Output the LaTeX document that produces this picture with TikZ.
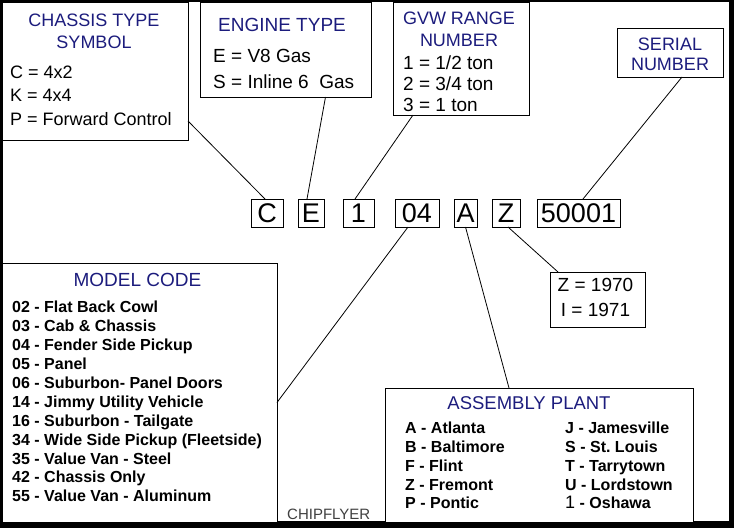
\documentclass[tikz,border=0pt]{standalone}
\usepackage{fontspec}
\setmainfont{Liberation Sans}
\usetikzlibrary{positioning}
\definecolor{headblue}{RGB}{28,28,125}
\tikzstyle{legend} = [
    rectangle, draw, line width=0.9pt, fill=white,
    anchor=north west, inner sep=0pt, outer sep=0pt
]
\tikzstyle{codebox} = [
    rectangle, draw, line width=0.9pt,
    minimum height=28pt, inner sep=0pt, outer sep=0pt, % same height for every letter
    font=\fontsize{27}{30}\selectfont
]
\tikzstyle{heading} = [
    inner sep=0pt, align=center, text=headblue
]
\tikzstyle{entries} = [
    inner sep=0pt, align=left
]
\tikzstyle{leader} = [line width=0.8pt]

\begin{document}
\begin{tikzpicture}[x=1pt, y=-1pt]
        \useasboundingbox (0,0) rectangle (734,528);
        % Frame
        \fill[black] (0,0) rectangle (734,528);
        \fill[white] (3,2) rectangle (729,521);

        % Legend boxes
        \node[legend, minimum width=186pt, minimum height=138pt] (chassis) at (2,2) {};
        \node[legend, minimum width=171pt, minimum height=95pt] (engine) at (200,2) {};
        \node[legend, minimum width=136pt, minimum height=113pt] (gvw) at (393,2) {};
        \node[legend, minimum width=106pt, minimum height=49pt] (serial) at (617,28) {};
        \node[legend, minimum width=95pt, minimum height=55pt] (year) at (550,272) {};
        \node[legend, minimum width=275pt, minimum height=259pt] (model) at (2,263) {};
        \node[legend, minimum width=308pt, minimum height=134pt] (plant) at (385,388) {};

        % The code itself
        \node[codebox, minimum width=32pt] (c) at (267,213) {C};
        \node[codebox, minimum width=26pt] (e) [right=15pt of c] {E};
        \node[codebox, minimum width=31pt] (one) [right=19pt of e] {1};
        \node[codebox, minimum width=44pt] (mdl) [right=21pt of one] {04};
        \node[codebox, minimum width=23pt] (a) [right=15pt of mdl] {A};
        \node[codebox, minimum width=28pt] (z) [right=15pt of a] {Z};
        \node[codebox, minimum width=83pt] (serialno) [right=17pt of z] {50001};

        % Headings
        \node[heading, font=\fontsize{18}{22}\selectfont] (chassishead) [below=11.5pt of chassis.north, xshift=-1pt] {CHASSIS TYPE\\SYMBOL};
        \node[heading, font=\fontsize{19}{22}\selectfont] (enginehead) [below=16pt of engine.north, xshift=-3.5pt] {ENGINE TYPE};
        \node[heading, font=\fontsize{18}{22}\selectfont] (gvwhead) [below=9.5pt of gvw.north, xshift=-2pt] {GVW RANGE\\NUMBER};
        \node[heading, font=\fontsize{18}{20}\selectfont] (serialhead) [below=9.5pt of serial.north] {SERIAL\\NUMBER};
        \node[heading, font=\fontsize{19}{22}\selectfont] (modelhead) [below=10pt of model.north, xshift=-2pt] {MODEL CODE};
        \node[heading, font=\fontsize{18.5}{22}\selectfont] (planthead) [below=8.4pt of plant.north, xshift=-10pt] {ASSEMBLY PLANT};

        % Entries
        \node[entries, font=\fontsize{18}{23.5}\selectfont] (chassislist) [below right=63.5pt and 8pt of chassis.north west] {
            C = 4x2\\
            K = 4x4\\
            P = Forward Control
        };
        \node[entries, font=\fontsize{19}{26}\selectfont] (enginelist) [below right=47pt and 13pt of engine.north west] {
            E = V8 Gas\\
            S = Inline 6\ \ Gas
        };
        \node[entries, font=\fontsize{19}{21}\selectfont] (gvwlist) [below right=54pt and 10pt of gvw.north west] {
            1 = 1/2 ton\\
            2 = 3/4 ton\\
            3 = 1 ton
        };
        \node[heading, text=black, font=\fontsize{19}{25}\selectfont] (yearlist) [below=6pt of year.north, xshift=-2pt] {
            Z = 1970\\
            I = 1971
        };
        \node[entries, font=\fontsize{16}{18.9}\selectfont\bfseries] (modellist) [below right=38pt and 10pt of model.north west] {
            02 - Flat Back Cowl\\
            03 - Cab \& Chassis\\
            04 - Fender Side Pickup\\
            05 - Panel\\
            06 - Suburbon- Panel Doors\\
            14 - Jimmy Utility Vehicle\\
            16 - Suburbon - Tailgate\\
            34 - Wide Side Pickup (Fleetside)\\
            35 - Value Van - Steel\\
            42 - Chassis Only\\
            55 - Value Van - Aluminum
        };
        \node[entries, font=\fontsize{16}{18.75}\selectfont\bfseries] (plantleft) [below right=34pt and 20pt of plant.north west] {
            A - Atlanta\\
            B - Baltimore\\
            F - Flint\\
            Z - Fremont\\
            P - Pontic
        };
        \node[entries, font=\fontsize{16}{18.75}\selectfont\bfseries] (plantright) [below right=34pt and 180pt of plant.north west] {
            J - Jamesville\\
            S - St.\ Louis\\
            T - Tarrytown\\
            U - Lordstown\\
            {\fontsize{18}{18.75}\selectfont\mdseries 1} - Oshawa
        };
        \node[inner sep=0pt, anchor=west, text=black!75, font=\fontsize{15}{18}\selectfont] (credit) at ([shift={(10pt,8pt)}]model.south east) {CHIPFLYER};

        % Leaders from each letter to its legend
        \draw[leader] ([yshift=19pt]chassis.south east) -- ([xshift=-2pt]c.north);
        \draw[leader] ([xshift=40pt]engine.south) -- ([xshift=-4pt]e.north);
        \draw[leader] ([xshift=-48pt]gvw.south) -- ([xshift=-3.5pt]one.north);
        \draw[leader] ([xshift=12pt]serial.south) -- ([xshift=4.5pt]serialno.north);
        \draw[leader] ([xshift=-9pt]mdl.south) -- ([yshift=-10pt]model.east);
        \draw[leader] (a.south) -- ([xshift=-30pt]plant.north);
        \draw[leader] ([xshift=2pt]z.south) -- ([xshift=8pt]year.north west);

    \end{tikzpicture}
\end{document}
